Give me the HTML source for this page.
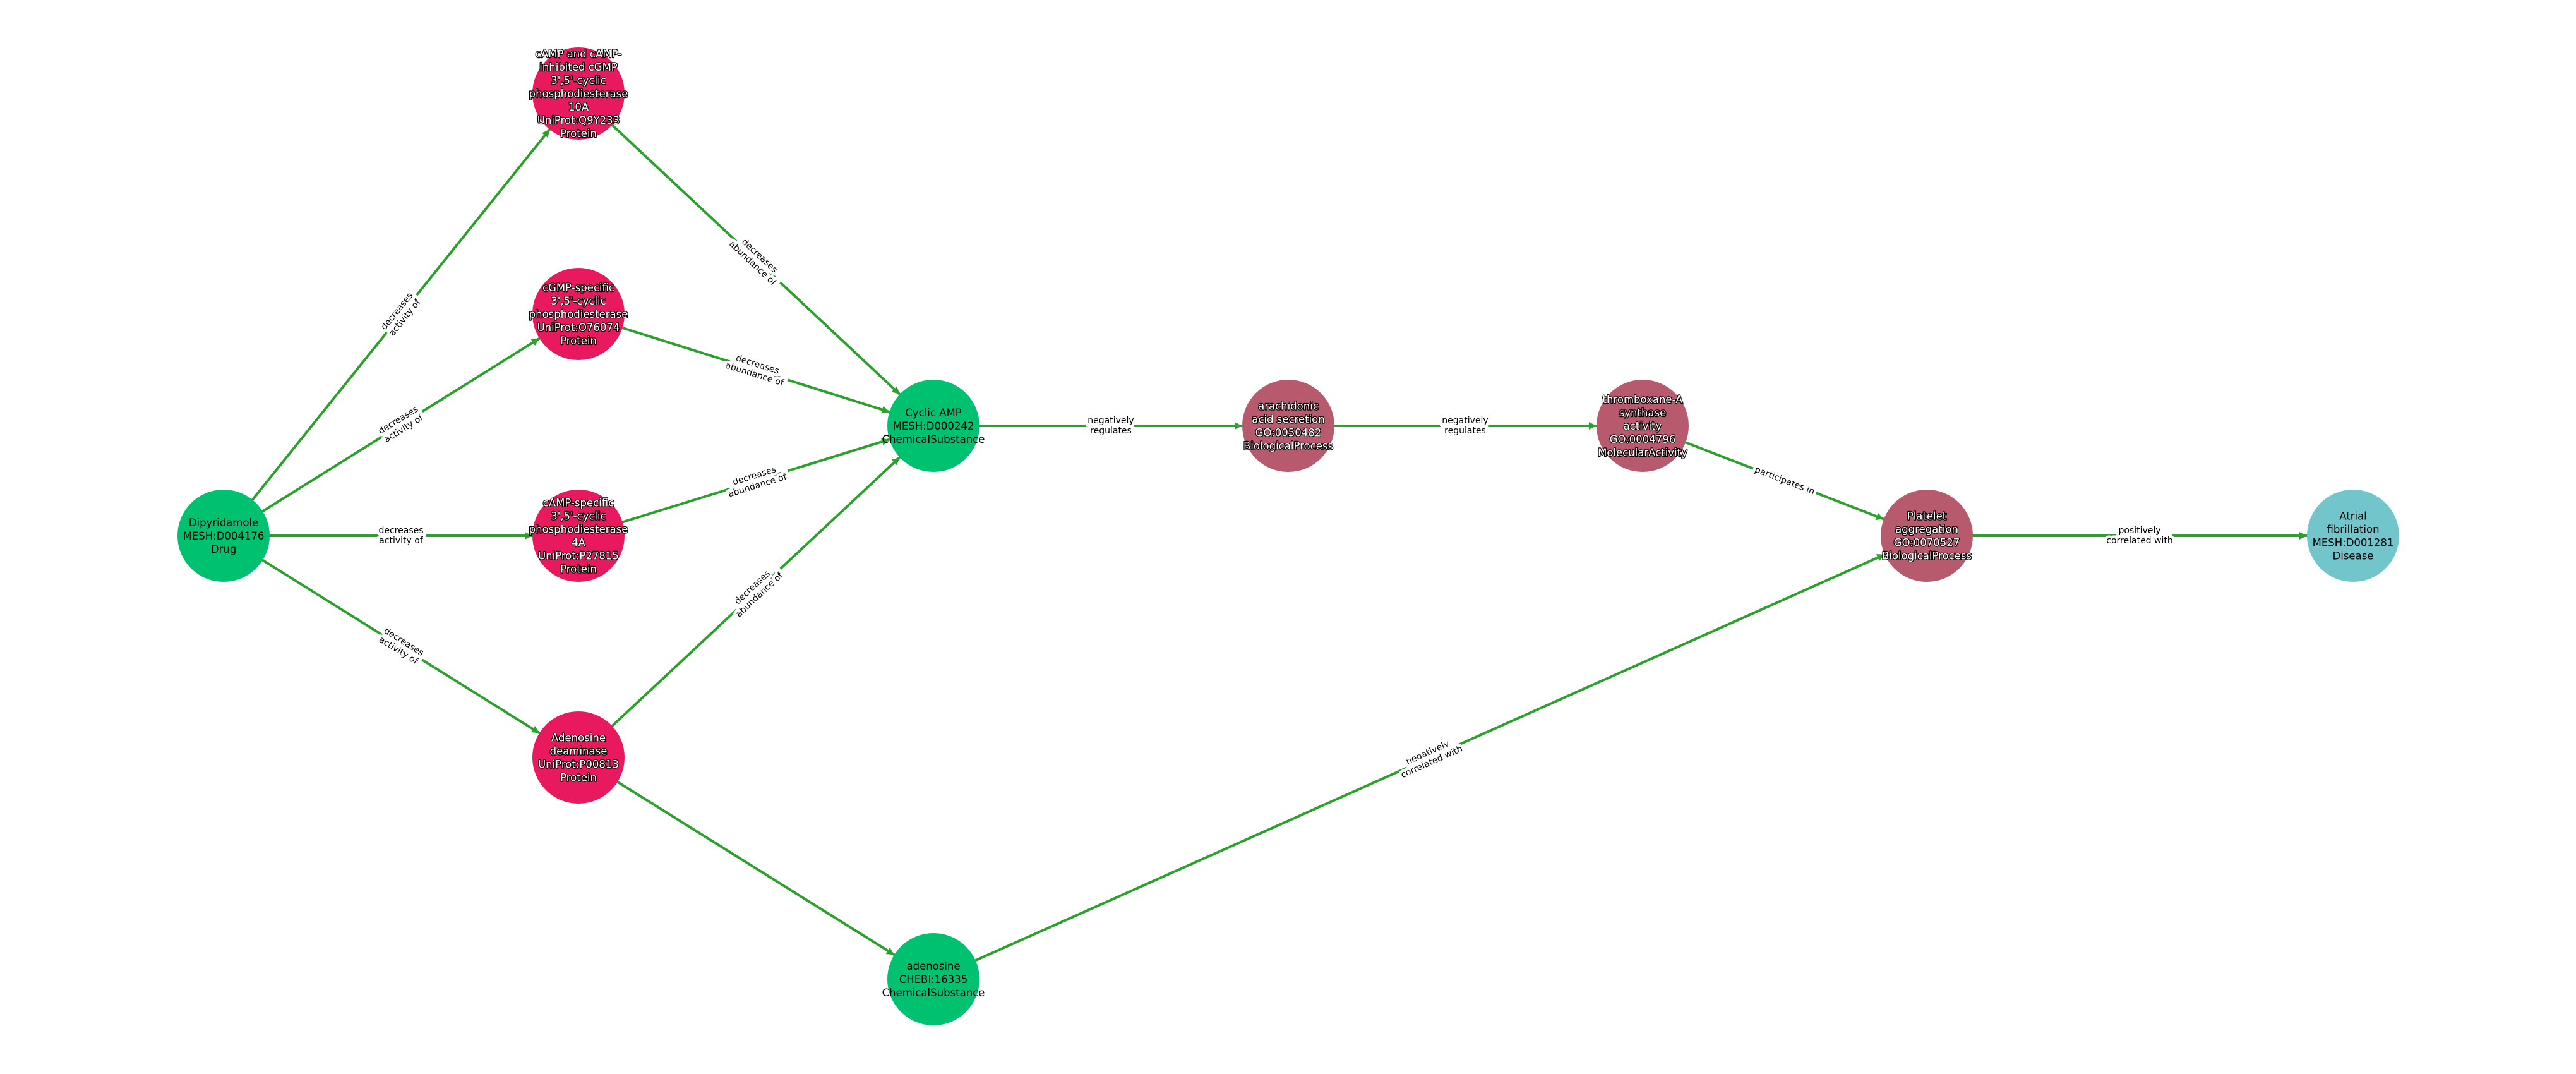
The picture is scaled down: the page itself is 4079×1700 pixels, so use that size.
<!DOCTYPE html>
<html><head><meta charset="utf-8"><style>
html,body{margin:0;padding:0;background:#fff;}
svg{display:block;}
.nl{font-family:"DejaVu Sans","Liberation Sans",sans-serif;font-size:16.5px;text-anchor:middle;dominant-baseline:central;}
.w{fill:#fff;stroke:#000;stroke-width:2.5;paint-order:stroke;stroke-linejoin:round;}
.b{fill:#000;}
.el{font-family:"DejaVu Sans","Liberation Sans",sans-serif;font-size:14px;text-anchor:middle;dominant-baseline:central;fill:#000;stroke:#fff;stroke-width:9;paint-order:stroke;stroke-linejoin:miter;}
</style></head><body>
<svg width="4079" height="1700" viewBox="0 0 4079 1700" xmlns="http://www.w3.org/2000/svg">
<defs>
<marker id="a" markerUnits="userSpaceOnUse" orient="auto" refX="73" refY="0" markerWidth="200" markerHeight="40" viewBox="-100 -20 200 40" overflow="visible">
<path d="M-12,-6 L0,0 L-12,6 z" fill="#2ca02c"/>
</marker>
</defs>
<g stroke="#2ca02c" stroke-width="4" fill="none" marker-end="url(#a)">
<line x1="354" y1="848" x2="916" y2="148"/>
<line x1="354" y1="848" x2="916" y2="497"/>
<line x1="354" y1="848" x2="916" y2="848"/>
<line x1="354" y1="848" x2="916" y2="1199"/>
<line x1="916" y1="148" x2="1478" y2="674"/>
<line x1="916" y1="497" x2="1478" y2="674"/>
<line x1="916" y1="848" x2="1478" y2="674"/>
<line x1="916" y1="1199" x2="1478" y2="674"/>
<line x1="916" y1="1199" x2="1478" y2="1550"/>
<line x1="1478" y1="674" x2="2040" y2="674"/>
<line x1="2040" y1="674" x2="2601" y2="674"/>
<line x1="2601" y1="674" x2="3051" y2="848"/>
<line x1="1478" y1="1550" x2="3051" y2="848"/>
<line x1="3051" y1="848" x2="3726" y2="848"/>
</g>
<g>
<text class="el" transform="translate(635,498) rotate(-51.2)"><tspan x="0" y="-8">decreases</tspan><tspan x="0" y="8">activity of</tspan></text>
<text class="el" transform="translate(635,672) rotate(-32)"><tspan x="0" y="-8">decreases</tspan><tspan x="0" y="8">activity of</tspan></text>
<text class="el" transform="translate(635,848)"><tspan x="0" y="-8">decreases</tspan><tspan x="0" y="8">activity of</tspan></text>
<text class="el" transform="translate(635,1023) rotate(32)"><tspan x="0" y="-8">decreases</tspan><tspan x="0" y="8">activity of</tspan></text>
<text class="el" transform="translate(1197,411) rotate(43.1)"><tspan x="0" y="-8">decreases</tspan><tspan x="0" y="8">abundance of</tspan></text>
<text class="el" transform="translate(1197,585) rotate(17.5)"><tspan x="0" y="-8">decreases</tspan><tspan x="0" y="8">abundance of</tspan></text>
<text class="el" transform="translate(1197,761) rotate(-17.2)"><tspan x="0" y="-8">decreases</tspan><tspan x="0" y="8">abundance of</tspan></text>
<text class="el" transform="translate(1197,936) rotate(-43.1)"><tspan x="0" y="-8">decreases</tspan><tspan x="0" y="8">abundance of</tspan></text>
<text class="el" transform="translate(1759,674)"><tspan x="0" y="-8">negatively</tspan><tspan x="0" y="8">regulates</tspan></text>
<text class="el" transform="translate(2320,674)"><tspan x="0" y="-8">negatively</tspan><tspan x="0" y="8">regulates</tspan></text>
<text class="el" transform="translate(2826,761) rotate(21.1)"><tspan x="0" y="0">participates in</tspan></text>
<text class="el" transform="translate(2264,1199) rotate(-24.1)"><tspan x="0" y="-8">negatively</tspan><tspan x="0" y="8">correlated with</tspan></text>
<text class="el" transform="translate(3388,848)"><tspan x="0" y="-8">positively</tspan><tspan x="0" y="8">correlated with</tspan></text>
</g>
<g>
<circle cx="354" cy="848" r="73" fill="#00c170"/>
<circle cx="916" cy="148" r="73" fill="#e8195f"/>
<circle cx="916" cy="497" r="73" fill="#e8195f"/>
<circle cx="916" cy="848" r="73" fill="#e8195f"/>
<circle cx="916" cy="1199" r="73" fill="#e8195f"/>
<circle cx="1478" cy="674" r="73" fill="#00c170"/>
<circle cx="1478" cy="1550" r="73" fill="#00c170"/>
<circle cx="2040" cy="674" r="73" fill="#b85a6e"/>
<circle cx="2601" cy="674" r="73" fill="#b85a6e"/>
<circle cx="3051" cy="848" r="73" fill="#b85a6e"/>
<circle cx="3726" cy="848" r="73" fill="#72c6cb"/>
</g>
<g>
<text class="nl b" x="354" y="848"><tspan x="354" dy="-21">Dipyridamole</tspan><tspan x="354" dy="21">MESH:D004176</tspan><tspan x="354" dy="21">Drug</tspan></text>
<text class="nl w" x="916" y="148"><tspan x="916" dy="-63">cAMP and cAMP-</tspan><tspan x="916" dy="21">inhibited cGMP</tspan><tspan x="916" dy="21">3',5'-cyclic</tspan><tspan x="916" dy="21">phosphodiesterase</tspan><tspan x="916" dy="21">10A</tspan><tspan x="916" dy="21">UniProt:Q9Y233</tspan><tspan x="916" dy="21">Protein</tspan></text>
<text class="nl w" x="916" y="497"><tspan x="916" dy="-42">cGMP-specific</tspan><tspan x="916" dy="21">3',5'-cyclic</tspan><tspan x="916" dy="21">phosphodiesterase</tspan><tspan x="916" dy="21">UniProt:O76074</tspan><tspan x="916" dy="21">Protein</tspan></text>
<text class="nl w" x="916" y="848"><tspan x="916" dy="-52.5">cAMP-specific</tspan><tspan x="916" dy="21">3',5'-cyclic</tspan><tspan x="916" dy="21">phosphodiesterase</tspan><tspan x="916" dy="21">4A</tspan><tspan x="916" dy="21">UniProt:P27815</tspan><tspan x="916" dy="21">Protein</tspan></text>
<text class="nl w" x="916" y="1199"><tspan x="916" dy="-31.5">Adenosine</tspan><tspan x="916" dy="21">deaminase</tspan><tspan x="916" dy="21">UniProt:P00813</tspan><tspan x="916" dy="21">Protein</tspan></text>
<text class="nl b" x="1478" y="674"><tspan x="1478" dy="-21">Cyclic AMP</tspan><tspan x="1478" dy="21">MESH:D000242</tspan><tspan x="1478" dy="21">ChemicalSubstance</tspan></text>
<text class="nl b" x="1478" y="1550"><tspan x="1478" dy="-21">adenosine</tspan><tspan x="1478" dy="21">CHEBI:16335</tspan><tspan x="1478" dy="21">ChemicalSubstance</tspan></text>
<text class="nl w" x="2040" y="674"><tspan x="2040" dy="-31.5">arachidonic</tspan><tspan x="2040" dy="21">acid secretion</tspan><tspan x="2040" dy="21">GO:0050482</tspan><tspan x="2040" dy="21">BiologicalProcess</tspan></text>
<text class="nl w" x="2601" y="674"><tspan x="2601" dy="-42">thromboxane-A</tspan><tspan x="2601" dy="21">synthase</tspan><tspan x="2601" dy="21">activity</tspan><tspan x="2601" dy="21">GO:0004796</tspan><tspan x="2601" dy="21">MolecularActivity</tspan></text>
<text class="nl w" x="3051" y="848"><tspan x="3051" dy="-31.5">Platelet</tspan><tspan x="3051" dy="21">aggregation</tspan><tspan x="3051" dy="21">GO:0070527</tspan><tspan x="3051" dy="21">BiologicalProcess</tspan></text>
<text class="nl b" x="3726" y="848"><tspan x="3726" dy="-31.5">Atrial</tspan><tspan x="3726" dy="21">fibrillation</tspan><tspan x="3726" dy="21">MESH:D001281</tspan><tspan x="3726" dy="21">Disease</tspan></text>
</g>
</svg>
</body></html>
